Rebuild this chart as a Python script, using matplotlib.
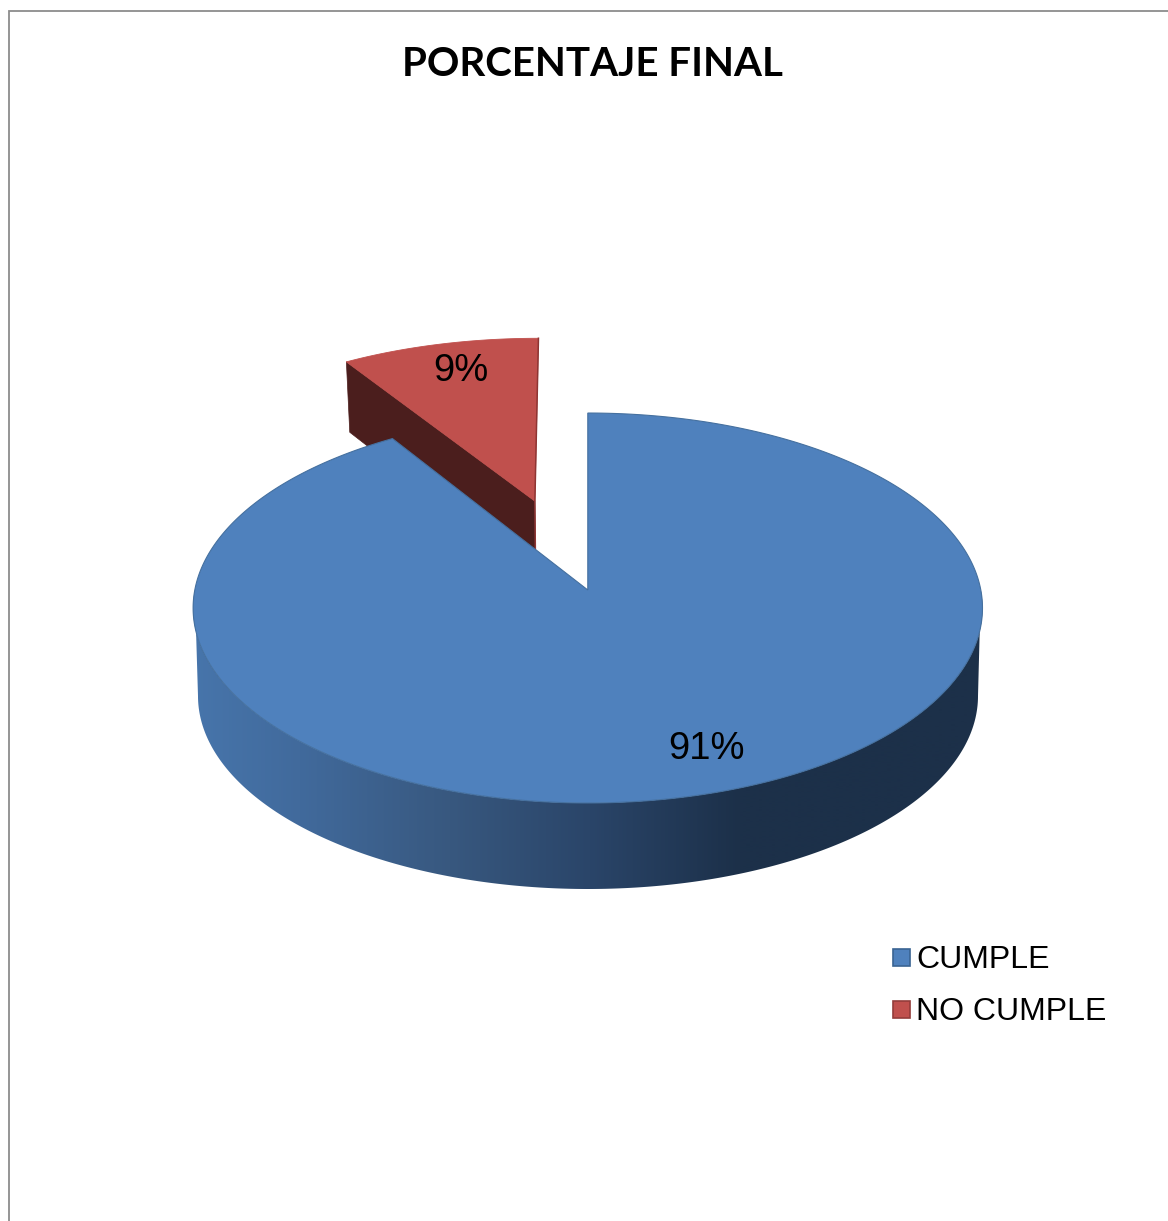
import numpy as np
import matplotlib
matplotlib.use("Agg")
import matplotlib.pyplot as plt
from matplotlib.patches import Polygon, Rectangle
from matplotlib.colors import to_rgb

title = "PORCENTAJE FINAL"
categories = ["CUMPLE", "NO CUMPLE"]
values = [91, 9]
labels = ["91%", "9%"]

W, H = 1168, 1221
fig = plt.figure(figsize=(W / 100, H / 100), dpi=100, facecolor="white")
ax = fig.add_axes([0, 0, 1, 1])

CX, CY, RX, RY, K, DEPTH, TAPER = 587.8, 590.0, 393.0, 193.3, 0.0923, 79.0, 0.014
BASE_X, BASE_Y, BASE_RX, BASE_RY = 588.0, 696.0, 390.0, 193.0
BLUE, RED, RED_DARK = "#4F81BD", "#C0504D", "#4B1E1D"


def project(u, v, z=0.0, kx=K):
    return (CX + RX * u * (1 - TAPER * z) / (1 + kx * v),
            CY - RY * v / (1 + K * v) + z * DEPTH / (1 + K * v))


def base(u, v):
    return BASE_X + BASE_RX * u, BASE_Y - BASE_RY * v


def ring(a0, a1, n=300):
    t = np.radians(np.linspace(a0, a1, n))
    return np.sin(t), np.cos(t)


fractions = np.array(values, float) / sum(values)
end_blue = fractions[0] * 360

# exploded small slice
KS = 0.075
mid = np.radians((end_blue + 360) / 2)
ex, ey = 0.5 * np.sin(mid), 0.5 * np.cos(mid)
u, v = ring(end_blue, 360)
px, py = project(u + ex, v + ey, kx=KS)
ax0, ay0 = project(ex, ey, kx=KS)
lx, ly = px[0], py[0]
lbx, lby = project(u[0] + ex, v[0] + ey, 1, kx=KS)
abx, aby = project(ex, ey, 1, kx=KS)
ax.add_patch(Polygon([(lx, ly), (ax0, ay0), (abx, aby), (lbx, lby)], fc=RED_DARK, ec=RED_DARK, lw=0.5, zorder=2))
ax.add_patch(Polygon(np.r_[np.c_[px, py], [(ax0, ay0)]], fc=RED, ec="#C0504D", lw=0.6, zorder=3))
ax.plot([px[-1], ax0, abx], [py[-1], ay0, aby], color="#8E3533", lw=1.1, zorder=3.5)

# side wall of the main slice, shaded by horizontal position
stops_x = [193, 300, 450, 590, 740, 990]
stops_c = [to_rgb(c) for c in ("#4775AB", "#416A9C", "#38587F", "#2A4569", "#1C3049", "#1C3049")]
gx = np.linspace(180, 1000, 821)
gradient = np.stack([np.interp(gx, stops_x, [c[i] for c in stops_c]) for i in range(3)], axis=-1)[None, :, :]
u, v = ring(90, 270, 400)
x0, y0 = project(u, v)
x1, y1 = base(u, v)
wall = Polygon(np.r_[np.c_[x0, y0], np.c_[x1, y1][::-1]], fc="none", ec="none", transform=ax.transData)
ax.add_patch(wall)
im = ax.imshow(gradient, extent=(180, 1000, 900, 580), aspect="auto", interpolation="bilinear", zorder=4)
im.set_clip_path(wall)

# top of the main slice
u, v = ring(0, end_blue, 800)
tx, ty = project(u, v)
cx0, cy0 = project(0, 0)
ax.add_patch(Polygon(np.r_[[(cx0, cy0)], np.c_[tx, ty]], fc=BLUE, ec="#45709F", lw=0.8, zorder=5))

# data labels
ax.text(706, 749, labels[0], fontsize=27.5, family="Liberation Sans", ha="center", va="center", color="black", zorder=6)
ax.text(461, 371, labels[1], fontsize=27.5, family="Liberation Sans", ha="center", va="center", color="black", zorder=6)

# title
ax.text(593, 64, title, fontsize=29, family="Lato", weight="bold", ha="center", va="center", color="black", zorder=6)

# legend
for y, name, col, edge in zip([957, 1009], categories, [BLUE, RED], ["#3A6492", "#943C3A"]):
    ax.add_patch(Rectangle((892.5, y - 8.5), 17, 17, fc=col, ec=edge, lw=1.2, zorder=6))
    ax.text(916, y + 3, name, fontsize=23, family="Liberation Sans", ha="left", va="center", color="black", zorder=6)

# chart frame
ax.plot([8.5, 8.5, W], [H, 10.5, 10.5], color="#8C8C8C", lw=1.3, solid_joinstyle="miter", zorder=1)

ax.set_xlim(0, W)
ax.set_ylim(H, 0)
ax.axis("off")

fig.savefig("out.png", dpi=100, facecolor="white")
